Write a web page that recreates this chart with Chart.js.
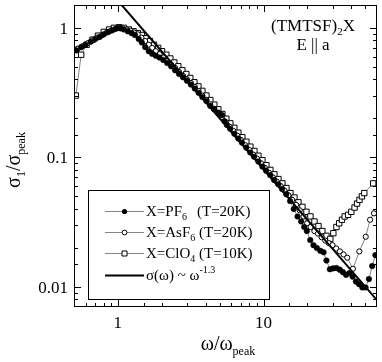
<!DOCTYPE html>
<html>
<head>
<meta charset="utf-8">
<script src="https://cdn.jsdelivr.net/npm/chart.js@4"></script>
<style>
  body { margin: 0; background: #fff; }
  canvas { display: block; }
</style>
</head>
<body>
<canvas id="chart" width="382" height="362"></canvas>
<script>
// X = PF6 (T=20K), filled circles
const pf6X = [0.52,0.56,0.60,0.65,0.70,0.75,0.80,0.86,0.92,0.98,1.04,1.10,1.17,1.24,1.31,1.39,1.46,1.54,1.63,1.72,1.82,1.93,2.05,2.18,2.32,2.47,2.63,2.80,2.98,3.17,3.37,3.58,3.80,4.05,4.30,4.58,4.87,5.18,5.40,5.60,5.90,6.30,6.70,7.10,7.60,8.10,8.60,9.20,9.80,10.4,11.1,11.8,12.6,13.4,14.3,15.2,16.1,17.1,18.1,19.0,19.8,20.9,22.0,23.2,24.5,25.8,27.0,28.5,30.0,31.6,33.3,35.0,36.8,38.8,40.8,43.0,45.2,47.6,50.1,52.8,55.6,58.5];
const pf6Y = [0.67,0.71,0.74,0.78,0.82,0.85,0.89,0.93,0.96,0.99,0.99,0.97,0.94,0.91,0.88,0.82,0.77,0.71,0.66,0.63,0.61,0.59,0.565,0.535,0.505,0.47,0.44,0.415,0.39,0.365,0.34,0.315,0.292,0.272,0.25,0.235,0.222,0.212,0.19,0.178,0.166,0.152,0.14,0.13,0.119,0.109,0.101,0.093,0.085,0.079,0.073,0.067,0.062,0.057,0.052,0.046,0.040,0.035,0.032,0.029,0.027,0.023,0.021,0.020,0.019,0.0185,0.016,0.0137,0.0139,0.014,0.0136,0.013,0.0124,0.0128,0.012,0.011,0.0105,0.0099,0.0099,0.0115,0.0145,0.0176];

// X = AsF6 (T=20K), open circles
const asf6X = [0.53,0.57,0.62,0.67,0.72,0.78,0.84,0.90,0.96,1.02,1.08,1.15,1.22,1.29,1.37,1.45,1.54,1.63,1.72,1.82,1.93,2.05,2.18,2.32,2.47,2.63,2.80,2.98,3.17,3.37,3.58,3.80,4.05,4.30,4.58,4.87,5.18,5.50,5.85,6.20,6.60,7.00,7.50,8.00,8.50,9.00,9.60,10.2,10.9,11.6,12.3,13.1,13.9,14.8,15.7,16.7,17.7,18.8,19.9,21.0,22.3,23.6,25.0,26.5,28.0,29.7,31.5,33.4,35.4,37.5,41.0,45.4,50.2,53.8,57.2];
const asf6Y = [0.69,0.72,0.76,0.80,0.84,0.88,0.92,0.95,0.98,1.0,0.99,0.97,0.95,0.92,0.89,0.84,0.79,0.74,0.70,0.66,0.625,0.59,0.555,0.52,0.49,0.455,0.425,0.40,0.375,0.35,0.325,0.30,0.278,0.257,0.237,0.219,0.203,0.187,0.172,0.16,0.147,0.136,0.124,0.114,0.105,0.098,0.09,0.083,0.076,0.07,0.065,0.06,0.0555,0.051,0.047,0.043,0.039,0.035,0.031,0.029,0.027,0.0258,0.0242,0.0228,0.0218,0.021,0.0198,0.0188,0.0178,0.0168,0.0138,0.0188,0.0244,0.033,0.037];

// X = ClO4 (T=10K), open squares
const clo4X = [0.515,0.56,0.61,0.67,0.73,0.80,0.87,0.94,1.02,1.10,1.19,1.28,1.37,1.46,1.56,1.66,1.77,1.89,2.01,2.15,2.29,2.44,2.60,2.77,2.95,3.14,3.35,3.57,3.80,4.05,4.31,4.59,4.89,5.21,5.55,5.91,6.30,6.71,7.15,7.62,8.12,8.65,9.21,9.81,10.45,11.13,11.86,12.64,13.46,14.34,15.28,16.28,17.34,18.47,19.68,20.96,22.33,23.8,25.3,27.0,28.7,30.1,31.6,33.0,34.5,36.0,38.0,40.0,42.1,43.8,45.5,47.3,49.1,56.5];
const clo4Y = [0.30,0.62,0.74,0.81,0.87,0.93,0.97,1.0,1.01,1.0,0.97,0.94,0.91,0.88,0.83,0.79,0.74,0.70,0.66,0.62,0.58,0.54,0.505,0.47,0.44,0.41,0.38,0.353,0.326,0.30,0.277,0.255,0.235,0.216,0.199,0.183,0.169,0.155,0.143,0.132,0.121,0.112,0.103,0.095,0.087,0.080,0.074,0.068,0.063,0.058,0.053,0.049,0.045,0.0415,0.038,0.035,0.032,0.0295,0.027,0.0248,0.0235,0.026,0.029,0.031,0.033,0.035,0.036,0.038,0.041,0.044,0.047,0.05,0.053,0.063];

// sigma(omega) ~ omega^-1.3, end points of the guide line
const lawX = [0.97, 60];
const lawY = [1.685, 0.0079];

// axis ranges and labelled ticks
const xMin = 0.5, xMax = 60;
const yMin = 0.007, yMax = 1.5;
const xLabelValues = [1, 10];
const xLabelText = ['1', '10'];
const yLabelValues = [0.01, 0.1, 1];
const yLabelText = ['0.01', '0.1', '1'];

const SERIF = '"Liberation Serif", "Times New Roman", serif';

function pts(xs, ys) {
  return xs.map((x, i) => ({ x: x, y: ys[i] }));
}

function isDecade(v) {
  const l = Math.log10(v);
  return Math.abs(l - Math.round(l)) < 1e-6;
}

// text with sub/superscripts: parts = [text, size, dy]
function rich(ctx, parts, x, y, align) {
  let w = 0;
  parts.forEach(p => {
    ctx.font = p[1] + 'px ' + SERIF;
    w += ctx.measureText(p[0]).width;
  });
  if (align === 'center') x -= w / 2;
  if (align === 'right') x -= w;
  ctx.textAlign = 'left';
  ctx.textBaseline = 'alphabetic';
  parts.forEach(p => {
    ctx.font = p[1] + 'px ' + SERIF;
    ctx.fillText(p[0], x, y + p[2]);
    x += ctx.measureText(p[0]).width;
  });
  return x;
}

function marker(ctx, style, x, y) {
  ctx.lineWidth = 1;
  ctx.strokeStyle = '#000';
  ctx.beginPath();
  if (style === 'filled') {
    ctx.fillStyle = '#000';
    ctx.arc(x, y, 2.6, 0, Math.PI * 2);
    ctx.fill();
  } else if (style === 'open') {
    ctx.fillStyle = '#fff';
    ctx.arc(x, y, 2.4, 0, Math.PI * 2);
    ctx.fill();
    ctx.stroke();
  } else {
    ctx.fillStyle = '#fff';
    ctx.rect(x - 2.5, y - 2.5, 5, 5);
    ctx.fill();
    ctx.stroke();
  }
}

const decorations = {
  id: 'decorations',
  afterDraw(chart) {
    const ctx = chart.ctx;
    const a = chart.chartArea;
    const xs = chart.scales.x;
    const ys = chart.scales.y;
    ctx.save();

    // frame
    ctx.strokeStyle = '#000';
    ctx.lineWidth = 1;
    ctx.strokeRect(a.left + 0.5, a.top + 0.5, a.right - a.left - 1, a.bottom - a.top - 1);

    // inward ticks on all four sides
    ctx.beginPath();
    xs.ticks.forEach(t => {
      const px = Math.round(xs.getPixelForValue(t.value)) + 0.5;
      if (px <= a.left + 1 || px >= a.right - 1) return;
      const len = isDecade(t.value) ? 7 : 4;
      ctx.moveTo(px, a.bottom); ctx.lineTo(px, a.bottom - len);
      ctx.moveTo(px, a.top); ctx.lineTo(px, a.top + len);
    });
    ys.ticks.forEach(t => {
      const py = Math.round(ys.getPixelForValue(t.value)) + 0.5;
      if (py <= a.top + 1 || py >= a.bottom - 1) return;
      const len = isDecade(t.value) ? 7 : 4;
      ctx.moveTo(a.left, py); ctx.lineTo(a.left + len, py);
      ctx.moveTo(a.right, py); ctx.lineTo(a.right - len, py);
    });
    ctx.stroke();

    ctx.fillStyle = '#000';

    // tick labels
    xLabelValues.forEach((v, i) => {
      rich(ctx, [[xLabelText[i], 17, 0]], xs.getPixelForValue(v), a.bottom + 21, 'center');
    });
    yLabelValues.forEach((v, i) => {
      rich(ctx, [[yLabelText[i], 17, 0]], a.left - 6, ys.getPixelForValue(v) + 6, 'right');
    });

    // sample label
    rich(ctx, [['(TMTSF)', 17, 0], ['2', 11, 4], ['X', 17, 0]], 313, 31, 'center');
    rich(ctx, [['E || a', 17, 0]], 313, 50, 'center');

    // axis titles
    rich(ctx, [['ω/ω', 20, 0], ['peak', 12, 5]], 228, 350, 'center');
    ctx.save();
    ctx.translate(20, 160);
    ctx.rotate(-Math.PI / 2);
    rich(ctx, [['σ', 20, 0], ['1', 12, 5], ['/σ', 20, 0], ['peak', 12, 5]], 0, 0, 'center');
    ctx.restore();

    // legend box
    ctx.fillStyle = '#fff';
    ctx.fillRect(88, 190, 181, 109);
    ctx.strokeStyle = '#000';
    ctx.lineWidth = 1;
    ctx.strokeRect(88.5, 190.5, 181, 109);

    const rows = [
      { y: 211, style: 'filled', parts: [['X=PF', 15, 0], ['6', 10, 4]], tail: '(T=20K)', tailX: 197 },
      { y: 232, style: 'open', parts: [['X=AsF', 15, 0], ['6', 10, 4], [' (T=20K)', 15, 0]] },
      { y: 253, style: 'square', parts: [['X=ClO', 15, 0], ['4', 10, 4], [' (T=10K)', 15, 0]] },
      { y: 275, style: 'law', parts: [['σ(ω) ~ ω', 15, 0], ['-1.3', 10, -7]] }
    ];
    rows.forEach(r => {
      ctx.beginPath();
      if (r.style === 'law') {
        ctx.strokeStyle = '#000';
        ctx.lineWidth = 2;
      } else {
        ctx.strokeStyle = '#666';
        ctx.lineWidth = 0.8;
      }
      ctx.moveTo(105, r.y + 0.5);
      ctx.lineTo(144, r.y + 0.5);
      ctx.stroke();
      if (r.style !== 'law') marker(ctx, r.style, 124.5, r.y + 0.5);
      ctx.fillStyle = '#000';
      rich(ctx, r.parts, 146, r.y + 5, 'left');
      if (r.tail) rich(ctx, [[r.tail, 15, 0]], r.tailX, r.y + 5, 'left');
    });

    ctx.restore();
  }
};

const thin = { borderColor: '#666', borderWidth: 0.8, showLine: true, tension: 0 };

new Chart(document.getElementById('chart'), {
  type: 'scatter',
  data: {
    datasets: [
      { label: 'law', data: pts(lawX, lawY), showLine: true, borderColor: '#000', borderWidth: 2, pointRadius: 0, order: 0 },
      Object.assign({ label: 'X=PF6 (T=20K)', data: pts(pf6X, pf6Y), pointStyle: 'circle', pointRadius: 2.8, pointBackgroundColor: '#000', pointBorderColor: '#000', pointBorderWidth: 0.5, order: 1 }, thin),
      Object.assign({ label: 'X=AsF6 (T=20K)', data: pts(asf6X, asf6Y), pointStyle: 'circle', pointRadius: 2.6, pointBackgroundColor: '#fff', pointBorderColor: '#000', pointBorderWidth: 1, order: 2 }, thin),
      Object.assign({ label: 'X=ClO4 (T=10K)', data: pts(clo4X, clo4Y), pointStyle: 'rect', pointRadius: 3.8, pointBackgroundColor: '#fff', pointBorderColor: '#000', pointBorderWidth: 1, order: 3 }, thin)
    ]
  },
  options: {
    responsive: false,
    animation: false,
    devicePixelRatio: 1,
    layout: { padding: { top: 2, right: 1, left: 0, bottom: 0 } },
    plugins: { legend: { display: false }, tooltip: { enabled: false } },
    scales: {
      x: {
        type: 'logarithmic',
        min: xMin,
        max: xMax,
        bounds: 'data',
        grid: { display: false, drawTicks: false },
        border: { display: false },
        ticks: { display: false, autoSkip: false },
        afterFit: s => { s.height = 55; }
      },
      y: {
        type: 'logarithmic',
        min: yMin,
        max: yMax,
        bounds: 'data',
        grid: { display: false, drawTicks: false },
        border: { display: false },
        ticks: { display: false, autoSkip: false },
        afterFit: s => { s.width = 74; }
      }
    }
  },
  plugins: [decorations]
});
</script>
</body>
</html>
